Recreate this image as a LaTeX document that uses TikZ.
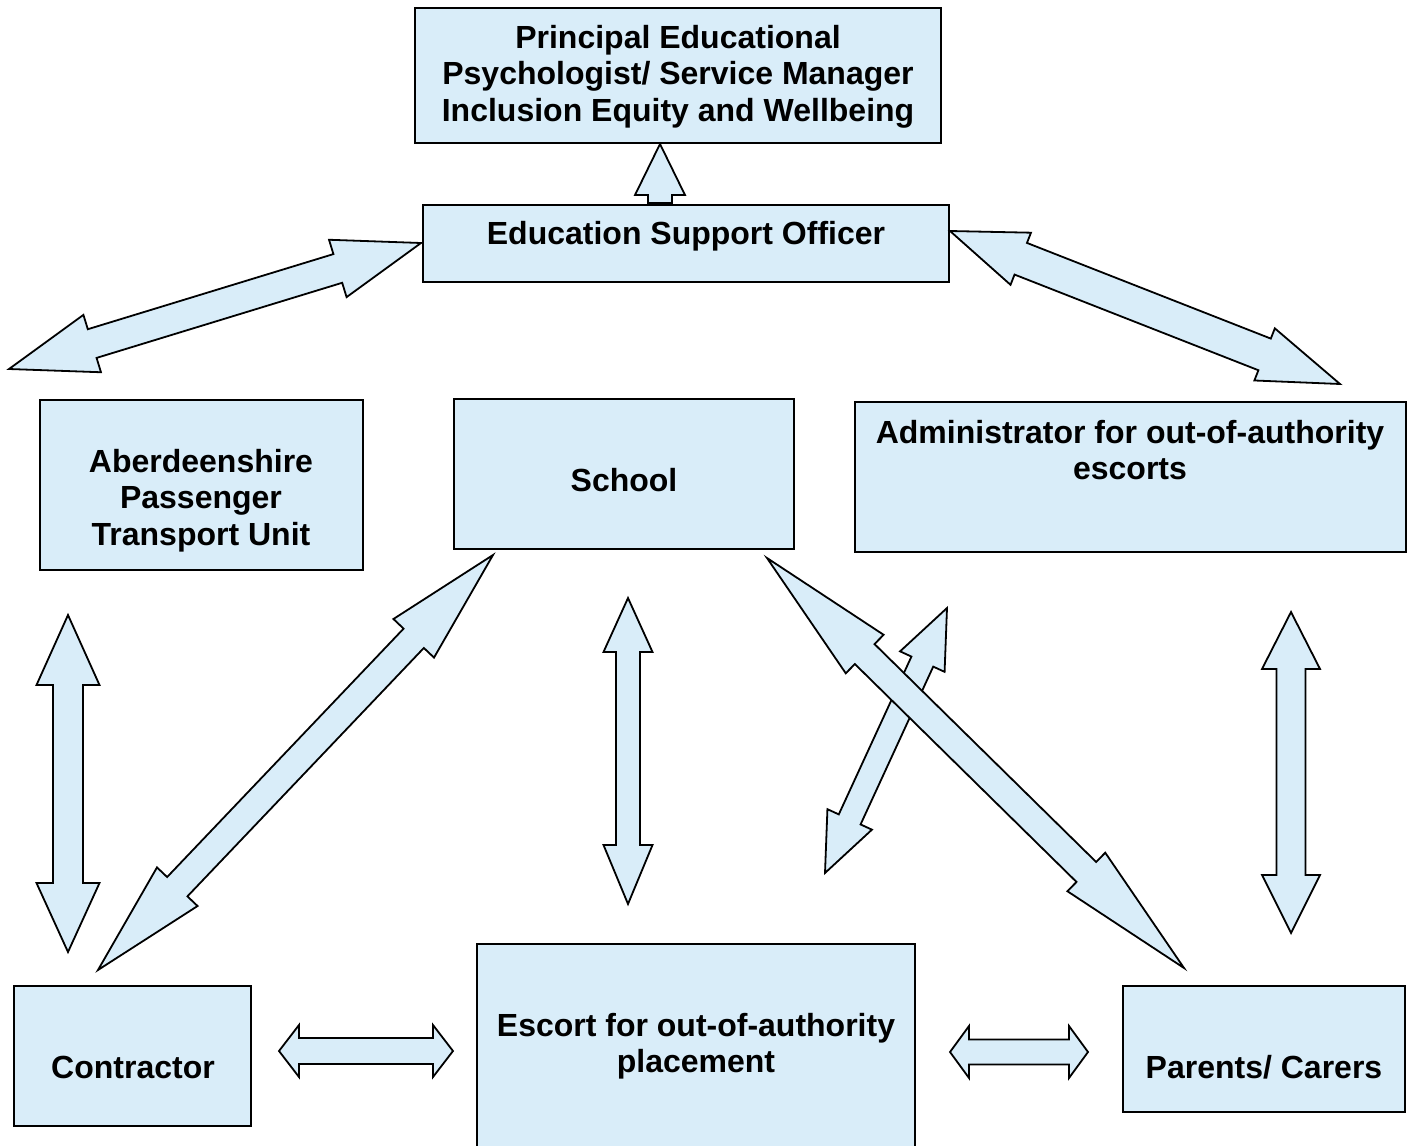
\documentclass[tikz,border=0pt]{standalone}
\usepackage{fontspec}
\setmainfont{Liberation Sans}
\usetikzlibrary{calc}
\definecolor{boxblue}{RGB}{217,237,249}
\tikzset{
  box/.style={draw=black, line width=2pt, fill=boxblue, inner sep=0pt},
  txt/.style={font=\bfseries\fontsize{32}{36.5}\selectfont, align=center, inner sep=0pt},
  barrow/.style={draw=black, line width=1.8pt, fill=boxblue, line join=miter}
}
% #1 tip A, #2 tip B, #3 shaft half width, #4 head half width, #5 head length at A, #6 head length at B
\newcommand\dblarr[6]{%
  \coordinate (hA) at ($(#1)!#5!(#2)$);
  \coordinate (hB) at ($(#2)!#6!(#1)$);
  \draw[barrow] (#1) -- ($(hA)!#4!90:(#2)$) -- ($(hA)!#3!90:(#2)$)
    -- ($(hB)!#3!-90:(#1)$) -- ($(hB)!#4!-90:(#1)$) -- (#2)
    -- ($(hB)!#4!90:(#1)$) -- ($(hB)!#3!90:(#1)$)
    -- ($(hA)!#3!-90:(#2)$) -- ($(hA)!#4!-90:(#2)$) -- cycle;
}
\begin{document}
\begin{tikzpicture}[x=1pt,y=-1pt]
\useasboundingbox (0,0) rectangle (1415,1145);
% boxes
\node[box, minimum width=526pt, minimum height=135pt] (pep) at (678,75.5) {};
\node[box, minimum width=526pt, minimum height=77pt] (eso) at (686,243.5) {};
\node[box, minimum width=323pt, minimum height=170pt] (aptu) at (201.5,485) {};
\node[box, minimum width=340pt, minimum height=150pt] (school) at (624,474) {};
\node[box, minimum width=551pt, minimum height=150pt] (admin) at (1130.5,477) {};
\node[box, minimum width=237pt, minimum height=140pt] (contr) at (132.5,1056) {};
\node[box, minimum width=438pt, minimum height=206pt] (escort) at (696,1047) {};
\node[box, minimum width=282pt, minimum height=126pt] (parents) at (1264,1049) {};
% texts
\node[txt] (pept) at (678,76.5) {Principal Educational\\Psychologist/ Service Manager\\Inclusion Equity and Wellbeing};
\node[txt, anchor=base] (esot) at (686,244.5) {Education Support Officer};
\node[txt] (aptut) at (201,500.5) {Aberdeenshire\\Passenger\\Transport Unit};
\node[txt, anchor=base] (schoolt) at (624,491.5) {School};
\node[txt] (admint) at (1130,450) {Administrator for out-of-authority\\escorts};
\node[txt, anchor=base] (contrt) at (133,1078.5) {Contractor};
\node[txt] (escortt) at (696,1046) {Escort for out-of-authority\\placement};
\node[txt, anchor=base] (parentst) at (1264,1078.5) {Parents/ Carers};
% arrow end points
\coordinate (upT) at (660,144);
\coordinate (b1) at (421,243);  \coordinate (b2) at (9,369);
\coordinate (c1) at (950,231);  \coordinate (c2) at (1340,384);
\coordinate (d1) at (68,615);   \coordinate (d2) at (68,952);
\coordinate (e1) at (493,555);  \coordinate (e2) at (98,970);
\coordinate (f1) at (628,598);  \coordinate (f2) at (628,904);
\coordinate (g1) at (767,558);  \coordinate (g2) at (1184,968);
\coordinate (h1) at (947,608);  \coordinate (h2) at (825,873);
\coordinate (i1) at (1291,612); \coordinate (i2) at (1291,933);
\coordinate (j1) at (279,1051); \coordinate (j2) at (453,1051);
\coordinate (k1) at (950,1052); \coordinate (k2) at (1088,1052);
% single arrow ESO -> PEP
\draw[barrow] (upT) -- ++(25,51) -- ++(-13,0) -- ++(0,8) -- ++(-24,0) -- ++(0,-8) -- ++(-13,0) -- cycle;
% double arrows
\dblarr{b1}{b2}{15pt}{30pt}{87pt}{87pt}
\dblarr{c1}{c2}{17pt}{28pt}{76pt}{81pt}
\dblarr{d1}{d2}{15pt}{31.5pt}{70pt}{69pt}
\dblarr{e1}{e2}{14pt}{28pt}{115pt}{115pt}
\dblarr{f1}{f2}{12pt}{24.5pt}{54pt}{59pt}
\dblarr{h1}{h2}{12pt}{24.5pt}{59pt}{59pt}
\dblarr{g1}{g2}{14pt}{27pt}{137pt}{137pt}
\dblarr{i1}{i2}{14.5pt}{29pt}{57pt}{58pt}
\dblarr{j1}{j2}{13pt}{26pt}{20pt}{20pt}
\dblarr{k1}{k2}{12.5pt}{26pt}{19pt}{19pt}
\end{tikzpicture}
\end{document}
